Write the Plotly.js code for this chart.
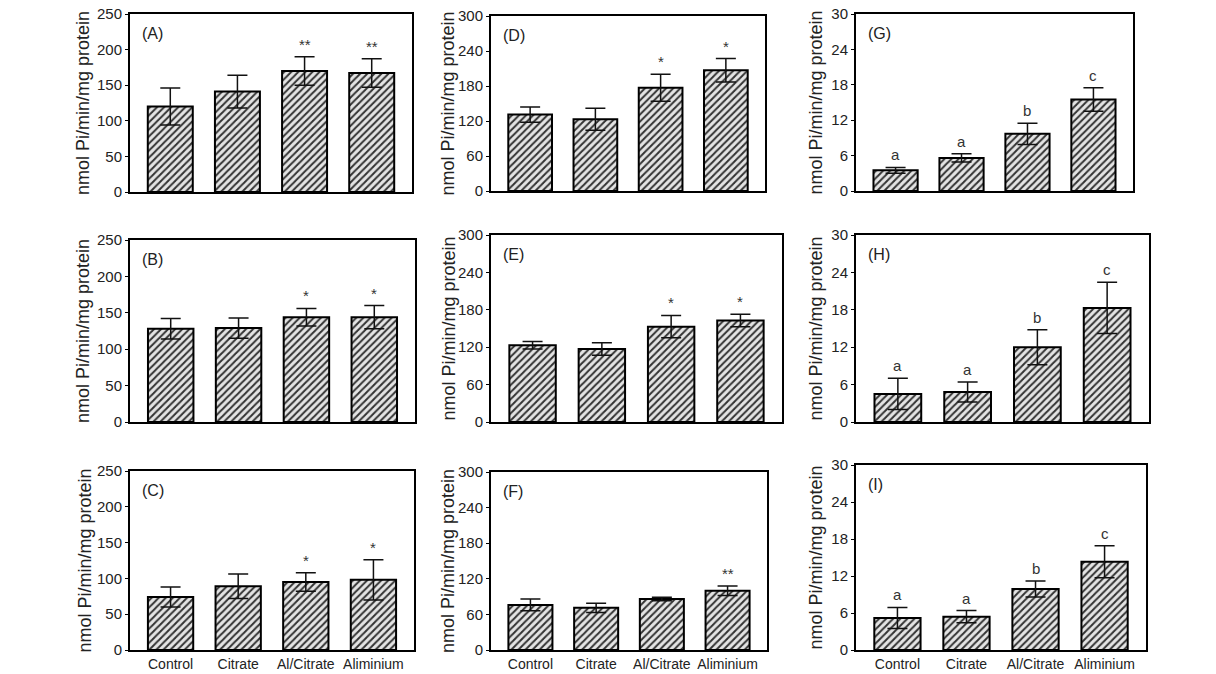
<!DOCTYPE html>
<html>
<head>
<meta charset="utf-8">
<script src="https://cdn.plot.ly/plotly-3.0.1.min.js"></script>
<style>html,body{margin:0;padding:0;background:#fff;}#chart{width:1216px;height:674px;}</style>
</head>
<body>
<div id="chart"></div>
<script>
// ---- data ----
const categories = ['Control', 'Citrate', 'Al/Citrate', 'Aliminium'];
const yTitle = 'nmol Pi/min/mg protein';

const A_mean = [120, 141, 170, 167];
const A_err  = [26, 23, 20, 20];
const A_sig  = ['', '', '**', '**'];

const B_mean = [128, 129, 144, 144];
const B_err  = [14, 14, 12, 16];
const B_sig  = ['', '', '*', '*'];

const C_mean = [74, 89, 95, 98];
const C_err  = [14, 17, 13, 28];
const C_sig  = ['', '', '*', '*'];

const D_mean = [131, 123, 177, 207];
const D_err  = [13, 19, 23, 20];
const D_sig  = ['', '', '*', '*'];

const E_mean = [123, 117, 153, 163];
const E_err  = [6, 10, 18, 10];
const E_sig  = ['', '', '*', '*'];

const F_mean = [76, 71, 86, 100];
const F_err  = [10, 8, 3, 8];
const F_sig  = ['', '', '', '**'];

const G_mean = [3.5, 5.6, 9.7, 15.5];
const G_err  = [0.5, 0.7, 1.8, 2.0];
const G_sig  = ['a', 'a', 'b', 'c'];

const H_mean = [4.5, 4.8, 12.0, 18.3];
const H_err  = [2.5, 1.6, 2.8, 4.1];
const H_sig  = ['a', 'a', 'b', 'c'];

const I_mean = [5.2, 5.4, 9.9, 14.3];
const I_err  = [1.7, 1.0, 1.3, 2.6];
const I_sig  = ['a', 'a', 'b', 'c'];

// ---- layout of panels (pixels) ----
const W = 1216, H = 674;
const panels = [
  {lab:'(A)', m:A_mean, e:A_err, s:A_sig, xd:[130,412], yd:[14,192],  yr:250, dt:50, tx:83,  xl:false},
  {lab:'(B)', m:B_mean, e:B_err, s:B_sig, xd:[130,415], yd:[240,422], yr:250, dt:50, tx:83,  xl:false},
  {lab:'(C)', m:C_mean, e:C_err, s:C_sig, xd:[130,414], yd:[471,650], yr:250, dt:50, tx:84,  xl:true},
  {lab:'(D)', m:D_mean, e:D_err, s:D_sig, xd:[491,765], yd:[16,191],  yr:300, dt:60, tx:448, xl:false},
  {lab:'(E)', m:E_mean, e:E_err, s:E_sig, xd:[491,782], yd:[235,422], yr:300, dt:60, tx:448, xl:false},
  {lab:'(F)', m:F_mean, e:F_err, s:F_sig, xd:[491,767], yd:[472,650], yr:300, dt:60, tx:448, xl:true},
  {lab:'(G)', m:G_mean, e:G_err, s:G_sig, xd:[856,1133], yd:[14,191], yr:30, dt:6, tx:815, xl:false},
  {lab:'(H)', m:H_mean, e:H_err, s:H_sig, xd:[856,1149], yd:[235,422], yr:30, dt:6, tx:815, xl:false},
  {lab:'(I)', m:I_mean, e:I_err, s:I_sig, xd:[856,1146], yd:[465,650], yr:30, dt:6, tx:815, xl:true}
];

const FONT = 'Liberation Sans, Arial, sans-serif';
const traces = [];
const layout = {
  width: W, height: H,
  margin: {l:0, r:0, t:0, b:0},
  paper_bgcolor: '#fff', plot_bgcolor: '#fff',
  showlegend: false,
  font: {family: FONT, color: '#222', size: 15},
  annotations: []
};

const xIdx = categories.map((c, i) => i);

panels.forEach((p, k) => {
  const n = k + 1;
  const xa = n === 1 ? 'x' : 'x' + n;
  const ya = n === 1 ? 'y' : 'y' + n;
  traces.push({
    type: 'bar',
    x: xIdx, y: p.m,
    xaxis: xa, yaxis: ya,
    width: 0.67,
    marker: {
      color: '#e4e4e4',
      line: {color: '#000', width: 2},
      pattern: {shape: '/', fgcolor: '#333', bgcolor: '#e4e4e4', size: 5, solidity: 0.4}
    },
    error_y: {type: 'data', array: p.e, visible: true, color: '#111', thickness: 1.5, width: 10},
    hoverinfo: 'skip'
  });
  const xkey = n === 1 ? 'xaxis' : 'xaxis' + n;
  const ykey = n === 1 ? 'yaxis' : 'yaxis' + n;
  layout[xkey] = {
    domain: [p.xd[0] / W, p.xd[1] / W],
    anchor: ya,
    range: [-0.6, 3.6],
    tickmode: 'array',
    tickvals: xIdx,
    ticktext: categories,
    showticklabels: p.xl,
    ticks: '',
    tickfont: {size: 14, color: '#222', family: FONT},
    showline: true, mirror: true, linecolor: '#000', linewidth: 2,
    showgrid: false, zeroline: false, fixedrange: true
  };
  layout[ykey] = {
    domain: [1 - p.yd[1] / H, 1 - p.yd[0] / H],
    anchor: xa,
    range: [0, p.yr],
    tick0: 0, dtick: p.dt,
    ticks: 'outside', ticklen: 3, tickcolor: '#000',
    tickfont: {size: 15, color: '#222', family: FONT},
    showline: true, mirror: true, linecolor: '#000', linewidth: 2,
    showgrid: false, zeroline: false, fixedrange: true
  };
  // panel label
  layout.annotations.push({
    text: p.lab, xref: xa + ' domain', yref: ya + ' domain',
    x: 0, y: 1, xanchor: 'left', yanchor: 'top', xshift: 10, yshift: -9,
    showarrow: false, font: {size: 16, color: '#222', family: FONT}
  });
  // y title
  layout.annotations.push({
    text: yTitle, xref: 'paper', yref: 'paper',
    x: p.tx / W, y: 1 - (p.yd[0] + p.yd[1]) / 2 / H,
    xanchor: 'center', yanchor: 'middle', textangle: -90,
    showarrow: false, font: {size: 18, color: '#222', family: FONT}
  });
  // significance marks
  p.s.forEach((t, i) => {
    if (!t) return;
    layout.annotations.push({
      text: t, xref: xa, yref: ya, x: xIdx[i], y: p.m[i] + p.e[i],
      xanchor: 'center', yanchor: 'bottom', yshift: 2,
      showarrow: false, font: {size: 15, color: '#333', family: FONT}
    });
  });
});

Plotly.newPlot('chart', traces, layout, {staticPlot: true, displayModeBar: false});
</script>
</body>
</html>
